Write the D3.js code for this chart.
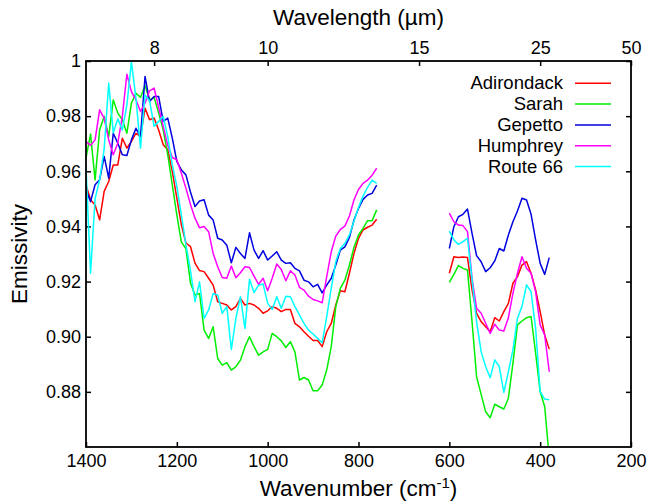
<!DOCTYPE html>
<html>
<head>
  <meta charset="utf-8">
  <script src="https://cdn.jsdelivr.net/npm/d3@7"></script>
  <style>
    body { margin: 0; background: #fff; }
    text { font-family: "Liberation Sans", Arial, sans-serif; fill: #000; }
  </style>
</head>
<body>
  <svg width="648" height="504" id="chart"></svg>
  <script>
    // wavenumber grids (cm-1), two measured segments
    const wnLeft = d3.range(1400, 755, -10);   // 1400 .. 760
    const wnRight = d3.range(600, 375, -10);   // 600 .. 380

    const names = ['Adirondack', 'Sarah', 'Gepetto', 'Humphrey', 'Route 66'];
    const colors = ['#ff0000', '#00ee00', '#0000e0', '#ff00ff', '#00ffff'];

    const adirondackLeft = [0.955, 0.9497, 0.9478, 0.9424, 0.9527, 0.9563, 0.9623, 0.9623, 0.972, 0.9684, 0.9708, 0.9738, 0.9726,
      0.9829, 0.9787, 0.9793, 0.975, 0.9696, 0.9678, 0.96, 0.9503, 0.9406, 0.934, 0.9327, 0.9267, 0.924, 0.9236,
      0.9212, 0.9187, 0.9127, 0.9121, 0.9115, 0.9097, 0.9109, 0.9139, 0.9115, 0.9121, 0.9115, 0.9103, 0.9085, 0.9094,
      0.9109, 0.9103, 0.9091, 0.9099, 0.9099, 0.9048, 0.9036, 0.9018, 0.9002,
      0.8986, 0.8986, 0.8964, 0.9018, 0.9048, 0.9115, 0.9167, 0.9163, 0.923, 0.9302, 0.9357, 0.9387, 0.9397, 0.9405, 0.9426];
    const sarahLeft = [0.9648, 0.9735, 0.9569, 0.975, 0.9799, 0.9726, 0.9859, 0.9811, 0.9787, 0.9738, 0.9847, 0.9883, 0.9868,
      0.9911, 0.9859, 0.9868, 0.9811, 0.975, 0.966, 0.9551, 0.9442, 0.9343, 0.932, 0.9195, 0.9151, 0.9157, 0.9024,
      0.8994, 0.9036, 0.8921, 0.8897, 0.8906, 0.8879, 0.8891, 0.8915, 0.8964, 0.9, 0.8964, 0.8933, 0.8945, 0.8954,
      0.9012, 0.9, 0.8985, 0.8961, 0.8982, 0.8945, 0.8843, 0.8852, 0.8843,
      0.8804, 0.8804, 0.8825, 0.8879, 0.8964, 0.9109, 0.9175, 0.9205, 0.926, 0.9324, 0.9369, 0.9393, 0.9421, 0.9421, 0.946];
    const gepettoLeft = [0.9533, 0.949, 0.9551, 0.9569, 0.9654, 0.9575, 0.9738, 0.9702, 0.966, 0.9657, 0.9714, 0.9756, 0.9726,
      0.9944, 0.9853, 0.9871, 0.9871, 0.9781, 0.9793, 0.972, 0.9636, 0.9605, 0.9587, 0.9525, 0.9472, 0.9492, 0.9497,
      0.9441, 0.9423, 0.9357, 0.9351, 0.9332, 0.9268, 0.9324, 0.9302, 0.9284, 0.9377, 0.9314, 0.9284, 0.9312, 0.9278,
      0.9293, 0.9308, 0.9278, 0.9266, 0.9268, 0.9248, 0.9239, 0.9205, 0.9199,
      0.9181, 0.919, 0.9159, 0.9187, 0.9212, 0.926, 0.9314, 0.9326, 0.936, 0.9423, 0.9465, 0.9498, 0.9514, 0.952, 0.955];
    const humphreyLeft = [0.9708, 0.9694, 0.9714, 0.9823, 0.9793, 0.9714, 0.966, 0.9702, 0.9799, 0.9952, 0.9889, 0.9859, 0.9817,
      0.9847, 0.9892, 0.9902, 0.9831, 0.9763, 0.9694, 0.965, 0.9642, 0.9593, 0.9539, 0.948, 0.943, 0.9395, 0.94,
      0.9381, 0.9302, 0.9254, 0.9215, 0.9212, 0.9256, 0.9214, 0.9232, 0.9254, 0.9251, 0.922, 0.919, 0.9212, 0.9167,
      0.9212, 0.9264, 0.9244, 0.9203, 0.9239, 0.9224, 0.9179, 0.9169, 0.9147,
      0.9135, 0.913, 0.9123, 0.9218, 0.9308, 0.9365, 0.9389, 0.9401, 0.9438, 0.9496, 0.9534, 0.9556, 0.9568, 0.9586, 0.9611];
    const route66Left = [0.9617, 0.923, 0.95, 0.957, 0.968, 0.992, 0.974, 0.979, 0.975, 0.9841, 0.9996, 0.9865, 0.9684,
      0.9877, 0.9856, 0.9763, 0.9781, 0.9799, 0.9726, 0.9623, 0.9545, 0.9442, 0.9333, 0.924, 0.9127, 0.9199, 0.9066,
      0.9097, 0.9157, 0.9151, 0.9085, 0.9109, 0.8954, 0.9066, 0.9145, 0.903, 0.9208, 0.916, 0.9187, 0.9191, 0.9121,
      0.9099, 0.9145, 0.9103, 0.9147, 0.9145, 0.9109, 0.9079, 0.9048, 0.9024,
      0.901, 0.8994, 0.8978, 0.9073, 0.9175, 0.9272, 0.932, 0.9338, 0.9369, 0.9419, 0.9469, 0.951, 0.9542, 0.9568, 0.9556];

    const adirondackRight = [0.923, 0.929, 0.9287, 0.9289, 0.9287, 0.917, 0.9085, 0.9055, 0.9036, 0.9018, 0.9069, 0.9057,
      0.9091, 0.9121, 0.9194, 0.9218, 0.926, 0.9272, 0.923, 0.917, 0.9091, 0.9006, 0.8955];
    const sarahRight = [0.9197, 0.9226, 0.9258, 0.9248, 0.9242, 0.9055, 0.8855, 0.8791, 0.8728, 0.8706, 0.8755, 0.8746,
      0.8738, 0.8777, 0.8903, 0.9043, 0.9057, 0.9069, 0.9073, 0.894, 0.8801, 0.8746, 0.856];
    const gepettoRight = [0.932, 0.9399, 0.9435, 0.9444, 0.9463, 0.9375, 0.9294, 0.9272, 0.9236, 0.925, 0.9275, 0.932,
      0.9311, 0.9369, 0.9417, 0.9456, 0.9502, 0.9496, 0.9444, 0.9351, 0.9266, 0.9226, 0.9287];
    const humphreyRight = [0.9448, 0.9417, 0.9405, 0.9403, 0.9381, 0.9212, 0.9103, 0.9085, 0.9049, 0.9012, 0.9045, 0.9024,
      0.9021, 0.9069, 0.9157, 0.923, 0.929, 0.9248, 0.923, 0.9163, 0.9043, 0.9006, 0.8873];
    const route66Right = [0.9383, 0.9351, 0.9335, 0.9345, 0.9357, 0.9206, 0.9055, 0.8946, 0.8891, 0.8851, 0.8916, 0.8891,
      0.8798, 0.8873, 0.8952, 0.9067, 0.911, 0.9188, 0.9163, 0.903, 0.8801, 0.8774, 0.8771];

    const leftSeries = [adirondackLeft, sarahLeft, gepettoLeft, humphreyLeft, route66Left];
    const rightSeries = [adirondackRight, sarahRight, gepettoRight, humphreyRight, route66Right];

    const xTicks = [1400, 1200, 1000, 800, 600, 400, 200];
    const yTicks = [1, 0.98, 0.96, 0.94, 0.92, 0.90, 0.88];
    const yTickLabels = ['1', '0.98', '0.96', '0.94', '0.92', '0.90', '0.88'];
    const topTicks = [8, 10, 15, 25, 50];   // wavelength in µm

    const svg = d3.select('#chart');
    const margin = { top: 61, right: 17, bottom: 57, left: 86 };
    const width = +svg.attr('width');
    const height = +svg.attr('height');

    const xScale = d3.scaleLinear().domain([1400, 200]).range([margin.left, width - margin.right]);
    const yScale = d3.scaleLinear().domain([0.86, 1.0]).range([height - margin.bottom, margin.top]);

    svg.append('clipPath').attr('id', 'plotclip')
      .append('rect')
      .attr('x', margin.left).attr('y', margin.top)
      .attr('width', width - margin.left - margin.right)
      .attr('height', height - margin.top - margin.bottom);

    // axes (ticks inside the frame)
    const fontSize = 18;
    const bottomAxis = svg.append('g')
      .attr('transform', `translate(0,${height - margin.bottom})`)
      .call(d3.axisBottom(xScale).tickValues(xTicks).tickFormat(d3.format('d'))
        .tickSizeInner(-5).tickSizeOuter(0).tickPadding(7));
    const topAxis = svg.append('g')
      .attr('transform', `translate(0,${margin.top})`)
      .call(d3.axisTop(xScale).tickValues(topTicks.map(l => 1e4 / l))
        .tickFormat((d, i) => topTicks[i]).tickSizeInner(-5).tickSizeOuter(0).tickPadding(7));
    const leftAxis = svg.append('g')
      .attr('transform', `translate(${margin.left},0)`)
      .call(d3.axisLeft(yScale).tickValues(yTicks)
        .tickFormat((d, i) => yTickLabels[i]).tickSizeInner(-5).tickSizeOuter(0).tickPadding(5));
    const rightAxis = svg.append('g')
      .attr('transform', `translate(${width - margin.right},0)`)
      .call(d3.axisRight(yScale).tickValues(yTicks).tickFormat('').tickSizeInner(-5).tickSizeOuter(0));

    [bottomAxis, topAxis, leftAxis, rightAxis].forEach(g => {
      g.select('.domain').remove();
      g.selectAll('.tick line').attr('stroke', '#000').attr('stroke-width', 1.5);
      g.selectAll('.tick text')
        .style('font-family', '"Liberation Sans", Arial, sans-serif')
        .style('font-size', fontSize + 'px')
        .attr('fill', '#000');
    });

    // data lines
    const line = d3.line()
      .x(d => xScale(d[0]))
      .y(d => yScale(d[1]));

    const plot = svg.append('g').attr('clip-path', 'url(#plotclip)');
    names.forEach((name, i) => {
      [[wnLeft, leftSeries[i]], [wnRight, rightSeries[i]]].forEach(([wn, vals]) => {
        plot.append('path')
          .datum(wn.map((w, j) => [w, vals[j]]))
          .attr('fill', 'none')
          .attr('stroke', colors[i])
          .attr('stroke-width', 1.5)
          .attr('stroke-linejoin', 'round')
          .attr('d', line);
      });
    });

    // frame
    svg.append('rect')
      .attr('x', margin.left).attr('y', margin.top)
      .attr('width', width - margin.left - margin.right)
      .attr('height', height - margin.top - margin.bottom)
      .attr('fill', 'none')
      .attr('stroke', '#000')
      .attr('stroke-width', 1.8);

    // legend
    const legend = svg.append('g');
    names.forEach((name, i) => {
      const ly = 83.3 + i * 20.8;
      legend.append('text')
        .attr('x', 563).attr('y', ly + 6)
        .attr('text-anchor', 'end')
        .style('font-size', '18.5px')
        .text(name);
      legend.append('line')
        .attr('x1', 575).attr('x2', 611)
        .attr('y1', ly).attr('y2', ly)
        .attr('stroke', colors[i])
        .attr('stroke-width', 1.5);
    });

    // titles
    const midX = (margin.left + width - margin.right) / 2;
    svg.append('text')
      .attr('x', midX).attr('y', 25)
      .attr('text-anchor', 'middle')
      .style('font-size', '22.5px')
      .text('Wavelength (µm)');

    const xt = svg.append('text')
      .attr('x', midX).attr('y', 496)
      .attr('text-anchor', 'middle')
      .style('font-size', '22.5px');
    xt.append('tspan').text('Wavenumber (cm');
    xt.append('tspan').attr('dy', -8).style('font-size', '15px').text('-1');
    xt.append('tspan').attr('dy', 8).text(')');

    svg.append('text')
      .attr('transform', `translate(27,${(margin.top + height - margin.bottom) / 2}) rotate(-90)`)
      .attr('text-anchor', 'middle')
      .style('font-size', '22.5px')
      .text('Emissivity');
  </script>
</body>
</html>
